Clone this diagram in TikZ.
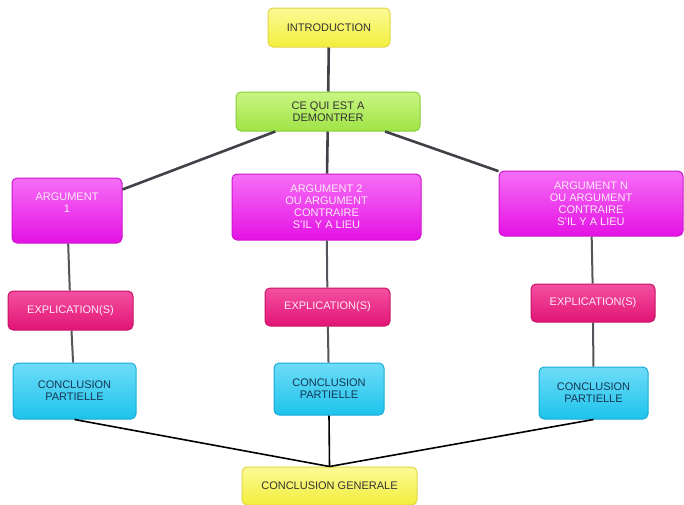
\documentclass[tikz,border=0pt]{standalone}
\usepackage{fontspec}
\setmainfont{Liberation Sans}
\usetikzlibrary{positioning}
\definecolor{YellowTop}{RGB}{252,250,150}
\definecolor{YellowBot}{RGB}{242,238,60}
\definecolor{YellowLine}{RGB}{225,215,70}
\definecolor{GreenTop}{RGB}{200,245,130}
\definecolor{GreenBot}{RGB}{160,228,70}
\definecolor{GreenLine}{RGB}{140,205,60}
\definecolor{ArgTop}{RGB}{246,110,246}
\definecolor{ArgBot}{RGB}{228,18,228}
\definecolor{ArgLine}{RGB}{205,20,205}
\definecolor{ExplTop}{RGB}{244,80,160}
\definecolor{ExplBot}{RGB}{226,20,118}
\definecolor{ExplLine}{RGB}{200,20,100}
\definecolor{ConclTop}{RGB}{110,220,248}
\definecolor{ConclBot}{RGB}{30,195,235}
\definecolor{ConclLine}{RGB}{25,170,215}
\definecolor{EdgeGray}{RGB}{65,65,72}

\begin{document}
\begin{tikzpicture}[
    x=1pt, y=-1pt,
    box/.style={rectangle, rounded corners=5pt, draw, line width=1pt, align=center,
        inner sep=2pt, font=\fontsize{11}{12}\selectfont},
    yellowbox/.style={box, top color=YellowTop, bottom color=YellowBot, draw=YellowLine, text=black!80},
    greenbox/.style={box, top color=GreenTop, bottom color=GreenBot, draw=GreenLine, text=black!80},
    argbox/.style={box, top color=ArgTop, bottom color=ArgBot, draw=ArgLine, text=white!92!magenta},
    explbox/.style={box, top color=ExplTop, bottom color=ExplBot, draw=ExplLine, text=white!92!magenta},
    conclbox/.style={box, top color=ConclTop, bottom color=ConclBot, draw=ConclLine, text={rgb,255:red,20;green,55;blue,85}},
    topline/.style={line width=2.6pt, color=EdgeGray},
    midline/.style={line width=2pt, color=EdgeGray!90},
    lowline/.style={line width=1.6pt, color=black}
]
\useasboundingbox (0,0) rectangle (684,504);

%%%%%%%%%%%%%%%%%%%%%%%%%%%%%%%%%%%%%%%%%%%%%%%%%%%%%%%%%%%%%%%%%%%
% Top
%%%%%%%%%%%%%%%%%%%%%%%%%%%%%%%%%%%%%%%%%%%%%%%%%%%%%%%%%%%%%%%%%%%
\node[yellowbox, minimum width=122pt, minimum height=39pt] (intro) at (329,27.5) {INTRODUCTION};
\node[greenbox, minimum width=184pt, minimum height=39pt] (thesis) at (328,111.5) {CE QUI EST A\\DEMONTRER};

%%%%%%%%%%%%%%%%%%%%%%%%%%%%%%%%%%%%%%%%%%%%%%%%%%%%%%%%%%%%%%%%%%%
% Arguments
%%%%%%%%%%%%%%%%%%%%%%%%%%%%%%%%%%%%%%%%%%%%%%%%%%%%%%%%%%%%%%%%%%%
\node[argbox, minimum width=110pt, minimum height=65pt] (arg_one) at (67,210.5) {ARGUMENT\\1\\[4pt]};
\node[argbox, minimum width=189pt, minimum height=66pt] (arg_two) at (326.5,207) {ARGUMENT 2\\OU ARGUMENT\\CONTRAIRE\\S'IL Y A LIEU};
\node[argbox, minimum width=184pt, minimum height=65pt] (arg_n) at (591,203.5) {ARGUMENT N\\OU ARGUMENT\\CONTRAIRE\\S'IL Y A LIEU};

%%%%%%%%%%%%%%%%%%%%%%%%%%%%%%%%%%%%%%%%%%%%%%%%%%%%%%%%%%%%%%%%%%%
% Explications
%%%%%%%%%%%%%%%%%%%%%%%%%%%%%%%%%%%%%%%%%%%%%%%%%%%%%%%%%%%%%%%%%%%
\node[explbox, minimum width=125pt, minimum height=39pt] (expl_one) at (70.5,310.5) {EXPLICATION(S)};
\node[explbox, minimum width=125pt, minimum height=38pt] (expl_two) at (327.5,307) {EXPLICATION(S)};
\node[explbox, minimum width=124pt, minimum height=38pt] (expl_n) at (593,303) {EXPLICATION(S)};

%%%%%%%%%%%%%%%%%%%%%%%%%%%%%%%%%%%%%%%%%%%%%%%%%%%%%%%%%%%%%%%%%%%
% Partial conclusions
%%%%%%%%%%%%%%%%%%%%%%%%%%%%%%%%%%%%%%%%%%%%%%%%%%%%%%%%%%%%%%%%%%%
\node[conclbox, minimum width=123pt, minimum height=56pt] (concl_one) at (74.5,391) {CONCLUSION\\PARTIELLE};
\node[conclbox, minimum width=110pt, minimum height=52pt] (concl_two) at (329,389) {CONCLUSION\\PARTIELLE};
\node[conclbox, minimum width=109pt, minimum height=52pt] (concl_n) at (593.5,393) {CONCLUSION\\PARTIELLE};

% General conclusion
\node[yellowbox, minimum width=175pt, minimum height=38pt] (final) at (329.5,486) {CONCLUSION GENERALE};

%%%%%%%%%%%%%%%%%%%%%%%%%%%%%%%%%%%%%%%%%%%%%%%%%%%%%%%%%%%%%%%%%%%
% Connections
%%%%%%%%%%%%%%%%%%%%%%%%%%%%%%%%%%%%%%%%%%%%%%%%%%%%%%%%%%%%%%%%%%%
\draw[topline] (intro) -- (thesis);
\draw[topline] (thesis) -- (arg_one);
\draw[topline] (thesis) -- (arg_two);
\draw[topline] (thesis) -- (arg_n);

\draw[midline] (arg_one) -- (expl_one);
\draw[midline] (arg_two) -- (expl_two);
\draw[midline] (arg_n) -- (expl_n);
\draw[midline] (expl_one) -- (concl_one);
\draw[midline] (expl_two) -- (concl_two);
\draw[midline] (expl_n) -- (concl_n);

\draw[lowline] (concl_one.south) -- (final.north);
\draw[lowline] (concl_two.south) -- (final.north);
\draw[lowline] (concl_n.south) -- (final.north);

\end{tikzpicture}
\end{document}
